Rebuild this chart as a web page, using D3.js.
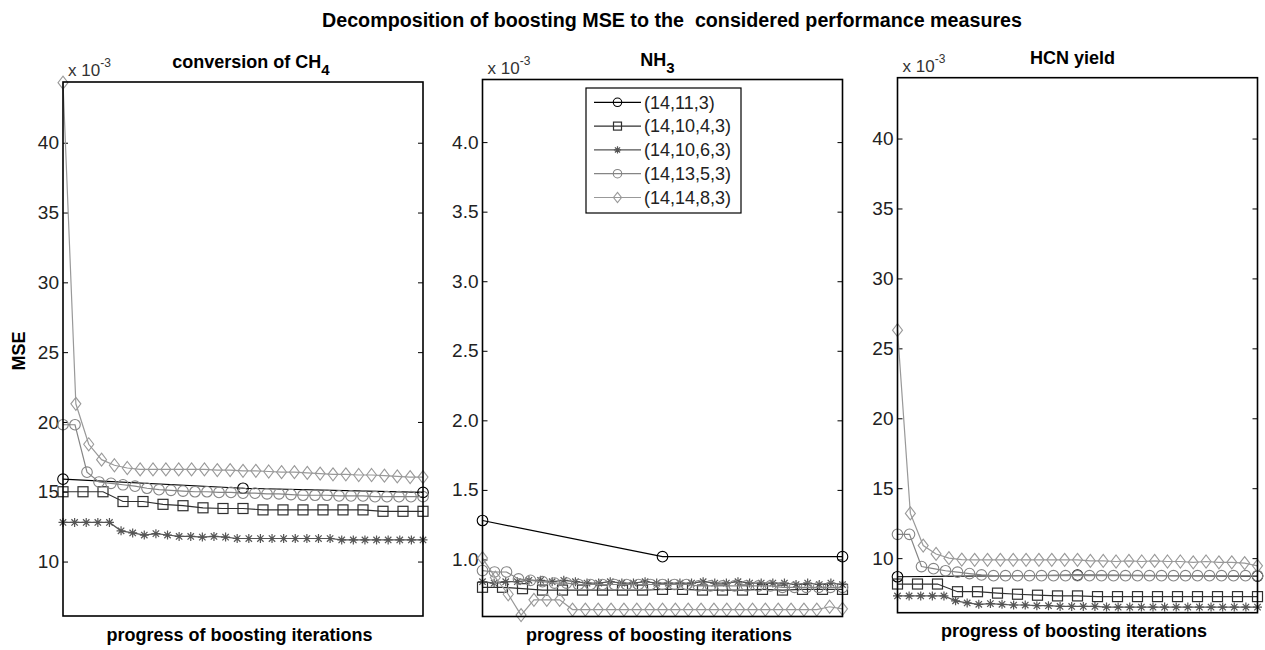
<!DOCTYPE html>
<html>
<head>
<meta charset="UTF-8">
<script src="https://cdn.jsdelivr.net/npm/d3@7"></script>
<style>
  body { margin: 0; background-color: #ffffff; }
  svg { display: block; font-family: "Liberation Sans", Arial, sans-serif; }
</style>
</head>
<body>
<div id="chart"></div>
<script>
// legend / network names, in plotting order
var netNames = ["(14,11,3)", "(14,10,4,3)", "(14,10,6,3)", "(14,13,5,3)", "(14,14,8,3)"];

// conversion of CH4, MSE x 10^-3
var ch4Net1 = [15.9, 15.25, 14.95];
var ch4Net2 = [15.0, 15.0, 15.0, 14.3, 14.3, 14.1, 14.0, 13.85, 13.8, 13.8, 13.7, 13.7, 13.7, 13.7, 13.7, 13.7, 13.6, 13.6, 13.6];
var ch4Net3 = [12.8, 12.8, 12.8, 12.8, 12.8, 12.2, 12.05, 11.9, 12.0, 11.9, 11.8, 11.8, 11.75, 11.8, 11.75, 11.65,
               11.65, 11.65, 11.65, 11.65, 11.65, 11.65, 11.65, 11.65, 11.55, 11.55, 11.55, 11.55, 11.55, 11.55, 11.55, 11.55];
var ch4Net4 = [19.8, 19.8, 16.4, 15.7, 15.6, 15.5, 15.4, 15.25, 15.15, 15.1, 15.05, 15.0, 15.0, 14.95, 14.95, 14.9,
               14.9, 14.85, 14.85, 14.8, 14.75, 14.75, 14.75, 14.7, 14.7, 14.7, 14.65, 14.65, 14.65, 14.65, 14.65];
var ch4Net5 = [44.3, 21.3, 18.4, 17.3, 16.9, 16.7, 16.6, 16.6, 16.6, 16.6, 16.6, 16.6, 16.55, 16.55, 16.5, 16.5,
               16.45, 16.4, 16.4, 16.35, 16.3, 16.25, 16.25, 16.2, 16.2, 16.15, 16.1, 16.05, 16.05];

// NH3, MSE x 10^-3
var nh3Net1 = [1.28, 1.02, 1.02];
var nh3Net2 = [0.80, 0.80, 0.79, 0.78, 0.78, 0.78, 0.78, 0.78, 0.78, 0.785, 0.785, 0.78, 0.78, 0.78, 0.785, 0.78, 0.785, 0.785, 0.785];
var nh3Net3 = [0.84, 0.83, 0.84, 0.84, 0.85, 0.85, 0.84, 0.85, 0.84, 0.83, 0.83, 0.84, 0.83, 0.83, 0.84, 0.83,
               0.83, 0.83, 0.83, 0.84, 0.83, 0.83, 0.84, 0.83, 0.83, 0.83, 0.83, 0.82, 0.83, 0.82, 0.83, 0.82];
var nh3Net4 = [0.92, 0.91, 0.91, 0.86, 0.85, 0.84, 0.83, 0.83, 0.82, 0.82, 0.82, 0.82, 0.82, 0.82, 0.82, 0.82,
               0.82, 0.82, 0.81, 0.81, 0.81, 0.81, 0.81, 0.81, 0.81, 0.80, 0.80, 0.80, 0.80, 0.80, 0.80];
var nh3Net5 = [1.01, 0.87, 0.75, 0.60, 0.71, 0.71, 0.71, 0.64, 0.64, 0.64, 0.64, 0.64, 0.64, 0.64, 0.64, 0.64,
               0.64, 0.64, 0.64, 0.64, 0.64, 0.64, 0.64, 0.64, 0.64, 0.64, 0.64, 0.66, 0.645];

// HCN yield, MSE x 10^-3
var hcnNet1 = [8.67, 8.78, 8.72];
var hcnNet2 = [8.15, 8.15, 8.15, 7.6, 7.6, 7.5, 7.42, 7.35, 7.3, 7.3, 7.25, 7.25, 7.25, 7.25, 7.25, 7.25, 7.25, 7.25, 7.25];
var hcnNet3 = [7.3, 7.3, 7.3, 7.3, 7.3, 6.95, 6.8, 6.7, 6.75, 6.7, 6.65, 6.65, 6.6, 6.6, 6.55, 6.55,
               6.55, 6.55, 6.5, 6.5, 6.5, 6.5, 6.5, 6.5, 6.5, 6.5, 6.5, 6.5, 6.5, 6.5, 6.5, 6.5];
var hcnNet4 = [11.7, 11.7, 9.4, 9.25, 9.1, 9.0, 8.9, 8.8, 8.75, 8.75, 8.75, 8.75, 8.75, 8.75, 8.75, 8.75,
               8.75, 8.75, 8.75, 8.75, 8.75, 8.75, 8.75, 8.75, 8.75, 8.75, 8.75, 8.75, 8.75, 8.75, 8.75];
var hcnNet5 = [26.3, 13.2, 10.9, 10.3, 10.0, 9.9, 9.88, 9.88, 9.88, 9.88, 9.88, 9.88, 9.88, 9.88, 9.88, 9.8,
               9.8, 9.76, 9.8, 9.76, 9.8, 9.76, 9.76, 9.7, 9.76, 9.7, 9.7, 9.65, 9.45];

// y tick values
var ticksWide = [10, 15, 20, 25, 30, 35, 40];
var ticksNH3 = [1.0, 1.5, 2.0, 2.5, 3.0, 3.5, 4.0];

var W = 1265, H = 650;
var colors = ["#000000", "#303030", "#555555", "#858585", "#999999"];
var markers = ["circle", "square", "star", "circle", "diamond"];

var panels = [
  {title: "conversion of CH", sub: "4", series: [ch4Net1, ch4Net2, ch4Net3, ch4Net4, ch4Net5],
   ticks: ticksWide, fmt: d3.format("d"), dom: [6.1, 44.35], x0: 63, x1: 423, y0: 82, y1: 616},
  {title: "NH", sub: "3", series: [nh3Net1, nh3Net2, nh3Net3, nh3Net4, nh3Net5],
   ticks: ticksNH3, fmt: d3.format(".1f"), dom: [0.59, 4.45], x0: 482.5, x1: 842.5, y0: 79.5, y1: 616.5},
  {title: "HCN yield", sub: "", series: [hcnNet1, hcnNet2, hcnNet3, hcnNet4, hcnNet5],
   ticks: ticksWide, fmt: d3.format("d"), dom: [6.1, 44.35], x0: 897.5, x1: 1257.5, y0: 77.7, y1: 612.7}
];

var svg = d3.select("#chart").append("svg")
  .attr("width", W).attr("height", H);

function drawMarker(g, type, cx, cy, color, s) {
  if (type === "circle") {
    g.append("circle").attr("cx", cx).attr("cy", cy).attr("r", 5.3 * s)
      .attr("fill", "none").attr("stroke", color).attr("stroke-width", 1.1);
  } else if (type === "square") {
    g.append("rect").attr("x", cx - 5 * s).attr("y", cy - 5 * s)
      .attr("width", 10 * s).attr("height", 10 * s)
      .attr("fill", "none").attr("stroke", color).attr("stroke-width", 1.2);
  } else if (type === "diamond") {
    var a = 5 * s, b = 6.5 * s;
    g.append("path")
      .attr("d", "M" + cx + "," + (cy - b) + "L" + (cx + a) + "," + cy + "L" + cx + "," + (cy + b) + "L" + (cx - a) + "," + cy + "Z")
      .attr("fill", "none").attr("stroke", color).attr("stroke-width", 1.1);
  } else {
    var r = 4.5 * s, q = 3.2 * s;
    g.append("path")
      .attr("d", "M" + (cx - r) + "," + cy + "H" + (cx + r) + "M" + cx + "," + (cy - r) + "V" + (cy + r) +
        "M" + (cx - q) + "," + (cy - q) + "L" + (cx + q) + "," + (cy + q) +
        "M" + (cx - q) + "," + (cy + q) + "L" + (cx + q) + "," + (cy - q))
      .attr("fill", "none").attr("stroke", color).attr("stroke-width", 1.2);
  }
}

panels.forEach(function(p, pi) {
  var x = d3.scaleLinear().domain([0, 1]).range([p.x0, p.x1]);
  var y = d3.scaleLinear().domain(p.dom).range([p.y1, p.y0]);
  var g = svg.append("g");

  // left axis with inward ticks
  var left = g.append("g").attr("transform", "translate(" + p.x0 + ",0)")
    .call(d3.axisLeft(y).tickValues(p.ticks).tickFormat(p.fmt).tickSizeInner(-5).tickSizeOuter(0).tickPadding(4));
  left.select(".domain").remove();
  left.selectAll("text").attr("font-size", 19).attr("fill", "#222")
    .attr("font-family", "Liberation Sans, Arial, sans-serif");
  left.selectAll("line").attr("stroke", "#000");

  var right = g.append("g").attr("transform", "translate(" + p.x1 + ",0)")
    .call(d3.axisRight(y).tickValues(p.ticks).tickFormat("").tickSizeInner(-5).tickSizeOuter(0));
  right.select(".domain").remove();
  right.selectAll("line").attr("stroke", "#000");

  // series
  p.series.forEach(function(vals, si) {
    var n = vals.length;
    var pts = vals.map(function(v, i) { return [x(i / (n - 1)), y(v)]; });
    g.append("path")
      .attr("d", d3.line()(pts))
      .attr("fill", "none").attr("stroke", colors[si]).attr("stroke-width", 1.2);
    pts.forEach(function(pt) {
      drawMarker(g, markers[si], pt[0], pt[1], colors[si], 1);
    });
  });

  // axes box
  g.append("rect").attr("x", p.x0).attr("y", p.y0)
    .attr("width", p.x1 - p.x0).attr("height", p.y1 - p.y0)
    .attr("fill", "none").attr("stroke", "#000").attr("stroke-width", 1.6);

  // exponent label
  var ex = g.append("text").attr("x", p.x0 + 5).attr("y", p.y0 - 6)
    .attr("font-size", 17).attr("fill", "#333");
  ex.append("tspan").text("x 10");
  ex.append("tspan").attr("dy", -9).attr("font-size", 12).text("-3");

  // panel title
  var tcx = (p.x0 + p.x1) / 2 + (pi === 0 ? 8 : -5);
  var t = g.append("text").attr("x", tcx).attr("y", p.y0 - 14)
    .attr("text-anchor", "middle").attr("font-size", 18).attr("font-weight", "bold").attr("fill", "#000");
  t.append("tspan").text(p.title);
  if (p.sub) t.append("tspan").attr("dy", 7).attr("font-size", 15).text(p.sub);

  // x label
  g.append("text").attr("x", (p.x0 + p.x1) / 2 - 3.5).attr("y", p.y1 + 24.5)
    .attr("text-anchor", "middle").attr("font-size", 18).attr("font-weight", "bold").attr("fill", "#000")
    .text("progress of boosting iterations");

  // legend in the NH3 panel
  if (pi === 1) {
    var lg = g.append("g");
    lg.append("rect").attr("x", 586).attr("y", 88).attr("width", 155).attr("height", 125)
      .attr("fill", "#fff").attr("stroke", "#000").attr("stroke-width", 1.2);
    netNames.forEach(function(name, i) {
      var ly = 102.3 + i * 23.8;
      lg.append("line").attr("x1", 594).attr("x2", 641).attr("y1", ly).attr("y2", ly)
        .attr("stroke", colors[i]).attr("stroke-width", 1.2);
      drawMarker(lg, markers[i], 617.5, ly, colors[i], 0.8);
      lg.append("text").attr("x", 644).attr("y", ly).attr("dy", "0.35em")
        .attr("font-size", 18).attr("fill", "#222").text(name);
    });
  }
});

// y label
svg.append("text").attr("transform", "translate(25,351) rotate(-90)")
  .attr("text-anchor", "middle").attr("font-size", 18).attr("font-weight", "bold").text("MSE");

// main title
svg.append("text").attr("x", 322).attr("y", 27)
  .attr("font-size", 20).attr("font-weight", "bold")
  .attr("textLength", 700).attr("lengthAdjust", "spacingAndGlyphs")
  .attr("xml:space", "preserve")
  .text("Decomposition of boosting MSE to the  considered performance measures");
</script>
</body>
</html>
